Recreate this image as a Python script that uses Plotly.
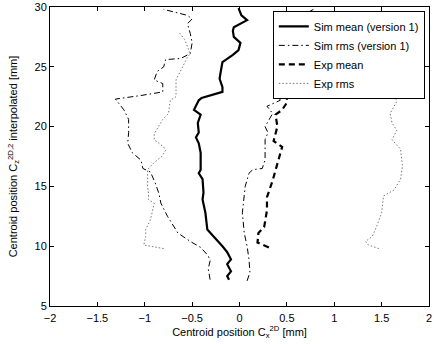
import plotly.graph_objects as go

# ---- data (x = centroid C_x [mm], y = height C_z [mm]) ----
sim_mean_y = [7.2, 7.5, 7.9, 8.5, 8.9, 9.5, 10.0, 10.8, 11.4, 12.8, 13.9, 14.5, 15.6, 16.1, 16.4,
              17.8, 18.6, 19.1, 19.5, 20.3, 21.0, 21.4, 22.2, 22.4, 22.7, 22.9, 23.3, 24.0, 24.5,
              25.0, 25.4, 26.0, 26.4, 27.0, 27.5, 28.0, 28.3, 28.9, 29.3, 29.9]
sim_mean_x = [-0.11, -0.13, -0.09, -0.13, -0.09, -0.13, -0.18, -0.27, -0.34, -0.36, -0.39, -0.38,
              -0.39, -0.43, -0.41, -0.41, -0.43, -0.46, -0.43, -0.44, -0.41, -0.48, -0.43, -0.40,
              -0.25, -0.18, -0.18, -0.21, -0.20, -0.19, -0.18, -0.07, -0.01, 0.01, -0.06, -0.07,
              -0.06, 0.08, 0.02, -0.01]

sim_rms_lo_y = [7.2, 8.1, 8.8, 9.2, 9.9, 10.4, 11.1, 12.5, 13.6, 14.4, 15.3, 16.2, 16.5, 17.2,
                17.8, 18.6, 19.5, 20.6, 21.4, 22.3, 22.6, 22.9, 23.6, 23.9, 24.6, 25.0, 25.6,
                25.7, 26.1, 27.0, 27.8, 28.6, 29.0, 29.3, 29.8]
sim_rms_lo_x = [-0.31, -0.33, -0.31, -0.33, -0.41, -0.52, -0.65, -0.76, -0.83, -0.85, -0.89,
                -0.94, -1.02, -1.04, -1.13, -1.18, -1.17, -1.17, -1.22, -1.31, -1.04, -0.81,
                -0.81, -0.90, -0.87, -0.80, -0.78, -0.62, -0.52, -0.50, -0.52, -0.55, -0.50,
                -0.55, -0.80]

sim_rms_hi_y = [7.1, 7.8, 8.9, 10.0, 11.1, 12.8, 15.0, 16.1, 16.4, 16.5, 17.2, 18.9, 19.5, 20.0,
                21.1, 21.7, 22.2, 22.9, 23.6, 23.9, 24.6, 25.6, 26.1, 27.0, 27.8, 28.1, 28.6,
                29.0, 29.8]
sim_rms_hi_x = [0.08, 0.11, 0.10, 0.08, 0.05, 0.03, 0.06, 0.10, 0.14, 0.24, 0.27, 0.27, 0.30,
                0.27, 0.35, 0.29, 0.43, 0.40, 0.40, 0.48, 0.47, 0.42, 0.40, 0.52, 0.40, 0.35,
                0.45, 0.60, 0.78]

exp_mean_y = [9.9, 10.3, 11.1, 11.6, 13.0, 14.1, 15.5, 16.6, 17.0, 17.6, 18.3, 18.8, 20.0, 21.0,
              21.4, 22.0, 23.3, 24.4, 25.5, 26.5, 27.5, 28.2]
exp_mean_x = [0.31, 0.19, 0.20, 0.26, 0.29, 0.29, 0.35, 0.39, 0.41, 0.43, 0.45, 0.36, 0.40, 0.38,
              0.45, 0.50, 0.50, 0.52, 0.55, 0.58, 0.56, 0.55]

exp_rms_lo_y = [9.8, 10.1, 10.8, 11.4, 12.2, 13.0, 13.6, 13.9, 14.4, 15.0, 16.4, 17.0, 17.5, 18.0,
                18.3, 18.9, 19.4, 20.6, 21.1, 22.2, 22.5, 23.9, 24.7, 25.8, 26.1, 27.3, 27.9]
exp_rms_lo_x = [-0.80, -1.01, -0.99, -0.99, -0.94, -0.92, -0.90, -0.96, -0.96, -0.97, -0.97,
                -0.90, -0.82, -0.78, -0.80, -0.90, -0.90, -0.81, -0.75, -0.73, -0.67, -0.67,
                -0.62, -0.55, -0.52, -0.58, -0.64]

exp_rms_hi_y = [9.8, 10.1, 10.4, 10.8, 11.7, 12.8, 14.2, 14.7, 15.6, 16.7, 18.1, 18.9, 19.7, 20.3,
                21.1, 22.1, 23.3, 24.4, 25.5, 26.5, 27.5, 28.2]
exp_rms_hi_x = [1.47, 1.36, 1.33, 1.40, 1.45, 1.50, 1.52, 1.63, 1.70, 1.72, 1.70, 1.61, 1.66, 1.61,
                1.59, 1.66, 1.61, 1.68, 1.72, 1.68, 1.72, 1.75]

x_tickvals = [-2, -1.5, -1, -0.5, 0, 0.5, 1, 1.5, 2]
x_ticktext = ["\u22122", "\u22121.5", "\u22121", "\u22120.5", "0", "0.5", "1", "1.5", "2"]
y_tickvals = [5, 10, 15, 20, 25, 30]
y_ticktext = ["5", "10", "15", "20", "25", "30"]

FONT = "Liberation Sans, Arial, Helvetica, sans-serif"

fig = go.Figure()
fig.add_trace(go.Scatter(x=sim_mean_x, y=sim_mean_y, mode="lines", name="Sim mean (version 1)",
                         line=dict(color="black", width=2.2)))
fig.add_trace(go.Scatter(x=sim_rms_lo_x, y=sim_rms_lo_y, mode="lines", name="Sim rms (version 1)",
                         line=dict(color="black", width=1, dash="6px,3px,1.5px,3px")))
fig.add_trace(go.Scatter(x=sim_rms_hi_x, y=sim_rms_hi_y, mode="lines", name="Sim rms (version 1)",
                         showlegend=False,
                         line=dict(color="black", width=1, dash="6px,3px,1.5px,3px")))
fig.add_trace(go.Scatter(x=exp_mean_x, y=exp_mean_y, mode="lines", name="Exp mean",
                         line=dict(color="black", width=2.2, dash="6px,4px")))
fig.add_trace(go.Scatter(x=exp_rms_lo_x, y=exp_rms_lo_y, mode="lines", name="Exp rms",
                         line=dict(color="#777777", width=1, dash="1.5px,2px")))
fig.add_trace(go.Scatter(x=exp_rms_hi_x, y=exp_rms_hi_y, mode="lines", name="Exp rms",
                         showlegend=False,
                         line=dict(color="#777777", width=1, dash="1.5px,2px")))

axis_common = dict(showline=True, linecolor="black", linewidth=1, mirror="ticks",
                   ticks="inside", ticklen=4, tickcolor="black", tickwidth=1,
                   showgrid=False, zeroline=False, automargin=False,
                   tickfont=dict(family=FONT, size=11, color="black"))

fig.update_xaxes(range=[-2, 2], tickvals=x_tickvals, ticktext=x_ticktext,
                 ticklabelstandoff=2,
                 title=dict(text="Centroid position C<sub>x</sub><sup>2D</sup> [mm]",
                            font=dict(family=FONT, size=11, color="black"), standoff=0),
                 **axis_common)
fig.update_yaxes(range=[5, 30], tickvals=y_tickvals, ticktext=y_ticktext,
                 title=dict(text="Centroid position C<sub>z</sub><sup>2D,2</sup> interpolated [mm]",
                            font=dict(family=FONT, size=11, color="black"), standoff=14),
                 **axis_common)

fig.update_layout(
    width=434, height=344,
    margin=dict(l=50, r=5, t=7, b=38, autoexpand=False),
    paper_bgcolor="white", plot_bgcolor="white",
    font=dict(family=FONT, size=11, color="black"),
    showlegend=True,
    legend=dict(x=0.989, y=0.987, xanchor="right", yanchor="top",
                bgcolor="white", bordercolor="black", borderwidth=1,
                font=dict(family=FONT, size=11, color="black"),
                itemwidth=30, tracegroupgap=0, traceorder="normal"),
)

fig.write_html("out.html", config={"displayModeBar": False},
               post_script="document.body.style.margin='0';document.body.style.overflow='hidden';")
